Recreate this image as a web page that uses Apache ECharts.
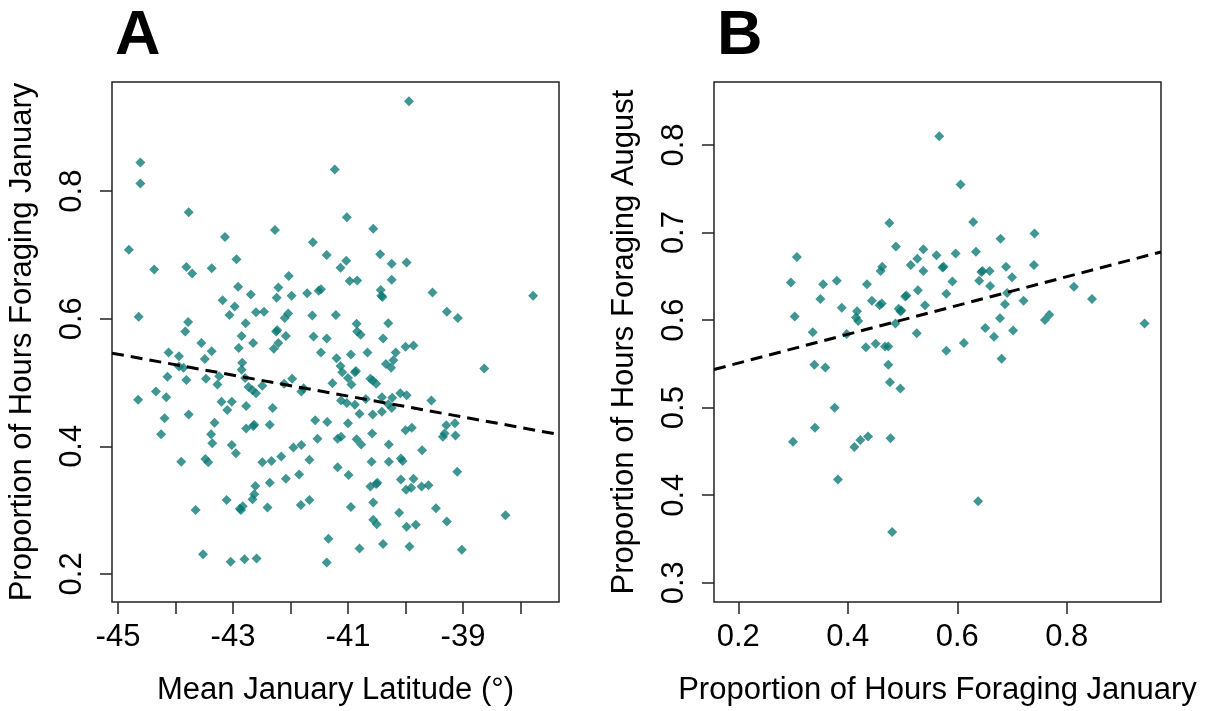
<!DOCTYPE html>
<html>
<head>
<meta charset="utf-8">
<script src="https://cdn.jsdelivr.net/npm/echarts@6/dist/echarts.min.js"></script>
<style>
  html, body { margin: 0; padding: 0; background: #fff; }
  #chart { width: 1209px; height: 711px; }
</style>
</head>
<body>
<div id="chart"></div>
<script>
// Panel A: mean January latitude vs proportion of hours foraging in January
const latA = [
  -44.61, -44.61, -41.23, -43.77, -44.81, -44.37, -43.81, -43.71, -43.37, -43.14,
  -42.94, -42.27, -41.61, -41.37, -41.13, -41.03, -42.91, -42.69, -43.18, -42.97,
  -43.06, -42.78, -42.60, -42.46, -42.21, -42.24, -42.03, -41.98, -41.71, -41.51,
  -41.47, -42.04, -42.10, -41.62, -41.21, -44.64, -43.78, -43.83, -42.25, -42.23,
  -42.85, -42.08, -41.60, -41.37, -42.65, -42.21, -42.29, -41.47, -41.20, -42.90,
  -43.55, -43.37, -43.49, -44.12, -43.94, -43.94, -43.86, -44.14, -43.81, -43.47,
  -43.24, -43.27, -44.34, -44.16, -44.65, -44.19, -44.25, -43.77, -43.20, -43.02,
  -43.10, -43.32, -43.38, -43.36, -43.90, -43.48, -43.43, -43.02, -42.95, -42.84,
  -42.85, -42.79, -42.73, -42.66, -42.60, -42.49, -42.77, -42.77, -42.65, -42.63,
  -42.31, -42.36, -42.11, -41.97, -41.81, -41.77, -41.27, -41.57, -41.36, -41.53,
  -41.18, -41.18, -41.95, -41.81, -42.16, -42.33, -42.49, -41.67, -41.85, -42.08,
  -42.36, -42.61, -42.63, -42.66, -43.11, -42.83, -42.88, -42.86, -42.40, -41.82,
  -41.67, -43.65, -41.34, -41.37, -43.52, -43.04, -42.80, -42.59, -39.94, -41.02,
  -40.56, -40.44, -40.24, -39.98, -40.97, -40.84, -40.24, -40.43, -40.42, -40.40,
  -39.53, -37.78, -40.85, -40.30, -39.28, -39.09, -40.84, -40.78, -40.39, -40.00,
  -39.86, -40.95, -40.66, -40.17, -40.21, -40.34, -40.25, -41.13, -41.10, -40.88,
  -40.86, -41.00, -40.94, -40.61, -40.57, -40.51, -38.63, -41.12, -41.02, -40.88,
  -40.69, -40.41, -40.23, -40.09, -39.98, -39.55, -40.30, -40.24, -40.80, -40.57,
  -40.41, -41.00, -41.12, -40.85, -40.77, -40.58, -40.29, -40.00, -39.89, -39.29,
  -39.14, -39.32, -39.35, -39.13, -39.71, -40.59, -40.29, -40.08, -40.05, -40.99,
  -39.10, -40.08, -39.86, -39.99, -39.90, -39.72, -39.60, -40.61, -40.51, -40.49,
  -40.56, -40.95, -40.11, -39.47, -40.56, -40.50, -39.98, -39.82, -39.28, -38.26,
  -40.80, -40.39, -39.93, -39.02
];
const janA = [
  0.845, 0.812, 0.834, 0.767, 0.708, 0.677, 0.681, 0.671, 0.679, 0.728,
  0.693, 0.739, 0.720, 0.700, 0.680, 0.691, 0.650, 0.638, 0.629, 0.619,
  0.606, 0.593, 0.610, 0.611, 0.649, 0.633, 0.667, 0.636, 0.640, 0.644,
  0.646, 0.608, 0.601, 0.605, 0.606, 0.603, 0.595, 0.580, 0.580, 0.582,
  0.573, 0.573, 0.572, 0.569, 0.562, 0.562, 0.553, 0.547, 0.538, 0.554,
  0.562, 0.549, 0.537, 0.547, 0.541, 0.525, 0.523, 0.509, 0.504, 0.506,
  0.510, 0.497, 0.486, 0.477, 0.473, 0.444, 0.419, 0.450, 0.470, 0.470,
  0.457, 0.437, 0.419, 0.405, 0.376, 0.380, 0.375, 0.402, 0.389, 0.531,
  0.520, 0.507, 0.493, 0.488, 0.483, 0.495, 0.463, 0.428, 0.432, 0.434,
  0.460, 0.434, 0.498, 0.506, 0.486, 0.491, 0.499, 0.441, 0.438, 0.412,
  0.412, 0.367, 0.398, 0.402, 0.384, 0.377, 0.375, 0.379, 0.356, 0.349,
  0.343, 0.338, 0.325, 0.317, 0.316, 0.306, 0.302, 0.300, 0.304, 0.308,
  0.316, 0.300, 0.255, 0.218, 0.231, 0.219, 0.223, 0.224, 0.941, 0.759,
  0.741, 0.701, 0.686, 0.688, 0.659, 0.660, 0.661, 0.645, 0.636, 0.634,
  0.641, 0.636, 0.592, 0.593, 0.611, 0.601, 0.580, 0.575, 0.569, 0.556,
  0.558, 0.544, 0.547, 0.547, 0.535, 0.529, 0.523, 0.526, 0.516, 0.516,
  0.518, 0.507, 0.497, 0.506, 0.503, 0.498, 0.522, 0.472, 0.468, 0.465,
  0.474, 0.477, 0.476, 0.483, 0.480, 0.472, 0.466, 0.460, 0.451, 0.450,
  0.454, 0.436, 0.415, 0.411, 0.403, 0.420, 0.403, 0.425, 0.429, 0.433,
  0.436, 0.420, 0.415, 0.417, 0.394, 0.376, 0.376, 0.381, 0.377, 0.355,
  0.360, 0.348, 0.349, 0.332, 0.335, 0.337, 0.339, 0.337, 0.341, 0.343,
  0.312, 0.305, 0.296, 0.303, 0.285, 0.278, 0.274, 0.277, 0.282, 0.292,
  0.240, 0.247, 0.243, 0.238
];

// Panel B: proportion foraging January vs August
const janB = [
  0.567, 0.476, 0.307, 0.296, 0.355, 0.380, 0.350, 0.389, 0.303, 0.336,
  0.417, 0.415, 0.419, 0.435, 0.444, 0.458, 0.462, 0.463, 0.460, 0.488,
  0.515, 0.527, 0.538, 0.538, 0.562, 0.505, 0.507, 0.528, 0.541, 0.493,
  0.496, 0.498, 0.487, 0.526, 0.398, 0.606, 0.629, 0.679, 0.741, 0.597,
  0.634, 0.573, 0.575, 0.644, 0.646, 0.659, 0.640, 0.689, 0.700, 0.740,
  0.591, 0.660, 0.580, 0.691, 0.687, 0.721, 0.813, 0.846, 0.678, 0.760,
  0.768, 0.651, 0.702, 0.667, 0.942, 0.580, 0.612, 0.681, 0.638, 0.339,
  0.359, 0.433, 0.451, 0.468, 0.474, 0.474, 0.477, 0.496, 0.376, 0.340,
  0.300, 0.412, 0.423, 0.437, 0.478, 0.382, 0.481
];
const augB = [
  0.810, 0.711, 0.672, 0.643, 0.641, 0.645, 0.624, 0.614, 0.604, 0.586,
  0.610, 0.603, 0.599, 0.641, 0.622, 0.617, 0.619, 0.661, 0.656, 0.684,
  0.663, 0.670, 0.681, 0.656, 0.674, 0.627, 0.628, 0.634, 0.617, 0.613,
  0.610, 0.611, 0.596, 0.585, 0.584, 0.755, 0.712, 0.693, 0.699, 0.676,
  0.678, 0.660, 0.661, 0.655, 0.656, 0.656, 0.645, 0.661, 0.649, 0.663,
  0.644, 0.639, 0.630, 0.631, 0.618, 0.622, 0.638, 0.624, 0.602, 0.600,
  0.606, 0.591, 0.588, 0.581, 0.596, 0.565, 0.574, 0.556, 0.393, 0.549,
  0.546, 0.569, 0.573, 0.570, 0.570, 0.549, 0.529, 0.522, 0.500, 0.477,
  0.461, 0.455, 0.463, 0.467, 0.465, 0.418, 0.358
];

// fitted lines (intercept, slope)
const fitA = [-0.1937, -0.0164];
const fitB = [0.518, 0.1645];

// tick positions
const ticksXA = [-45, -44, -43, -42, -41, -40, -39, -38];
const labelsXA = [-45, -43, -41, -39];
const ticksYA = [0.2, 0.4, 0.6, 0.8];
const ticksXB = [0.2, 0.4, 0.6, 0.8];
const ticksYB = [0.3, 0.4, 0.5, 0.6, 0.7, 0.8];

const rangeXA = [-45.104, -37.33];
const rangeYA = [0.156, 0.971];
const rangeXB = [0.1557, 0.972];
const rangeYB = [0.278, 0.872];

const FONT = "Liberation Sans, Arial, sans-serif";
const pointColor = "#097973";

const zip = (xs, ys) => xs.map((x, i) => [x, ys[i]]);
const fitLine = (fit, range) => range.map((x) => [x, fit[0] + fit[1] * x]);

const chart = echarts.init(document.getElementById("chart"));

const makeXAxis = (idx, range, ticks, labels, name) => ({
  gridIndex: idx,
  type: "value",
  min: range[0],
  max: range[1],
  name: name,
  nameLocation: "middle",
  nameGap: 73,
  nameTextStyle: { fontSize: 31, color: "#000", fontFamily: FONT },
  axisLine: { show: false },
  splitLine: { show: false },
  axisTick: {
    show: true,
    length: 12,
    customValues: ticks,
    lineStyle: { color: "#222", width: 1.5 },
  },
  axisLabel: {
    customValues: labels,
    margin: 20,
    fontSize: 31,
    color: "#000",
    fontFamily: FONT,
  },
})

const makeYAxis = (idx, range, ticks, name) => ({
  gridIndex: idx,
  type: "value",
  min: range[0],
  max: range[1],
  name: name,
  nameLocation: "middle",
  nameGap: 74,
  nameTextStyle: { fontSize: 31, color: "#000", fontFamily: FONT },
  axisLine: { show: false },
  splitLine: { show: false },
  axisTick: {
    show: true,
    length: 12,
    customValues: ticks,
    lineStyle: { color: "#222", width: 1.5 },
  },
  axisLabel: {
    customValues: ticks,
    rotate: 90,
    margin: 24,
    fontSize: 31,
    color: "#000",
    fontFamily: FONT,
  },
})

const option = {
  backgroundColor: "#fff",
  animation: false,
  title: [
    {
      text: "A",
      left: 110,
      top: 0,
      textStyle: { fontSize: 63, fontWeight: "bold", color: "#000", fontFamily: FONT },
    },
    {
      text: "B",
      left: 712,
      top: 0,
      textStyle: { fontSize: 63, fontWeight: "bold", color: "#000", fontFamily: FONT },
    },
  ],
  grid: [
    {
      left: 112,
      top: 82,
      width: 447,
      height: 523,
      show: true,
      borderColor: "#222",
      borderWidth: 1.5,
      backgroundColor: "transparent",
    },
    {
      left: 714,
      top: 82,
      width: 447,
      height: 523,
      show: true,
      borderColor: "#222",
      borderWidth: 1.5,
      backgroundColor: "transparent",
    },
  ],
  xAxis: [
    makeXAxis(0, rangeXA, ticksXA, labelsXA, "Mean January Latitude (°)"),
    makeXAxis(1, rangeXB, ticksXB, ticksXB, "Proportion of Hours Foraging January"),
  ],
  yAxis: [
    makeYAxis(0, rangeYA, ticksYA, "Proportion of Hours Foraging January"),
    makeYAxis(1, rangeYB, ticksYB, "Proportion of Hours Foraging August"),
  ],
  series: [
    {
      type: "scatter",
      xAxisIndex: 0,
      yAxisIndex: 0,
      data: zip(latA, janA),
      symbol: "diamond",
      symbolSize: 10,
      itemStyle: { color: pointColor, opacity: 0.78 },
    },
    {
      type: "line",
      xAxisIndex: 0,
      yAxisIndex: 0,
      data: fitLine(fitA, rangeXA),
      showSymbol: false,
      symbol: "none",
      lineStyle: { color: "#000", width: 3, type: [12, 7] },
    },
    {
      type: "scatter",
      xAxisIndex: 1,
      yAxisIndex: 1,
      data: zip(janB, augB),
      symbol: "diamond",
      symbolSize: 10,
      itemStyle: { color: pointColor, opacity: 0.78 },
    },
    {
      type: "line",
      xAxisIndex: 1,
      yAxisIndex: 1,
      data: fitLine(fitB, rangeXB),
      showSymbol: false,
      symbol: "none",
      lineStyle: { color: "#000", width: 3, type: [12, 7] },
    },
  ],
}

chart.setOption(option)

window.addEventListener("resize", () => chart.resize())
</script>
</body>
</html>
